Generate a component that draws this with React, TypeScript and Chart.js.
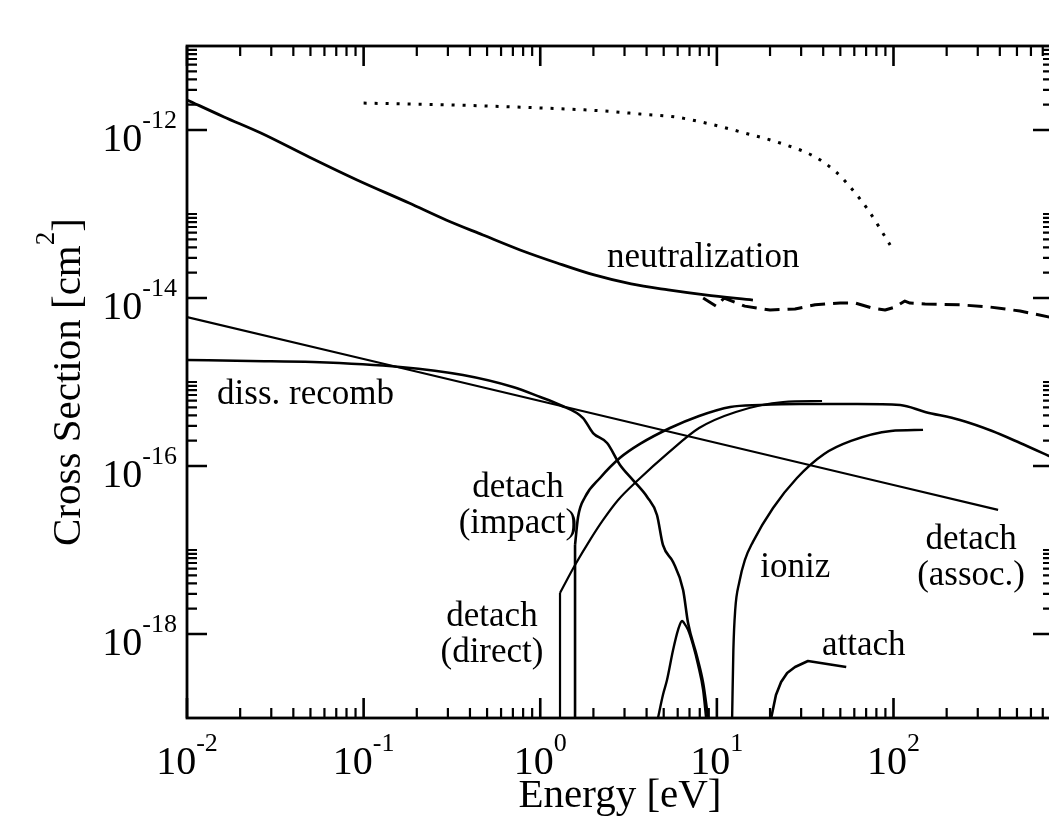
import React, { useEffect, useRef } from 'react';
import { Chart, registerables } from 'chart.js';

Chart.register(...registerables);

const FONT = '"Liberation Serif", "Times New Roman", Times, serif';

// ---- axes ----
const X_MIN = 0.01;
const X_MAX = 800;
const Y_MIN = 1e-19;
const Y_MAX = 1e-11;
const X_MAJOR_TICKS = [0.01, 0.1, 1, 10, 100];
const X_TICK_EXPONENTS = ['-2', '-1', '0', '1', '2'];
const X_MINOR_MULTIPLIERS = [2, 3, 4, 5, 6, 7, 8, 9];
const Y_MAJOR_TICKS = [1e-18, 1e-16, 1e-14, 1e-12];
const Y_TICK_EXPONENTS = ['-18', '-16', '-14', '-12'];
const Y_MINOR_MULTIPLIERS = [2, 3, 4, 5, 6, 7, 8, 9, 10];
const X_TITLE = 'Energy [eV]';
const Y_TITLE = ['Cross Section [cm', '2', ']'];

// ---- series (energy [eV], cross section [cm^2]) ----
const NEUTRAL_E = [0.01, 0.0162, 0.0262, 0.0491, 0.0918, 0.181, 0.293, 0.474, 0.769, 1.245, 2.02, 3.27, 5.3, 8.57, 16.0];
const NEUTRAL_S = [2.28e-12, 1.43e-12, 9.2e-13, 4.77e-13, 2.54e-13, 1.35e-13, 8.49e-14, 5.62e-14, 3.73e-14, 2.61e-14, 1.88e-14, 1.47e-14, 1.25e-14, 1.09e-14, 9.46e-15];

const DOTTED_E = [0.1, 0.308, 1.0, 2.33, 3.67, 5.79, 9.14, 14.4, 22.8, 36.0, 47.3, 56.8, 71.8, 95.7];
const DOTTED_S = [2.09e-12, 1.99e-12, 1.83e-12, 1.68e-12, 1.55e-12, 1.43e-12, 1.18e-12, 9.2e-13, 7.0e-13, 4.78e-13, 3.16e-13, 2.1e-13, 1.12e-13, 4.28e-14];

const DASHED_E = [8.36, 9.91, 11.0, 14.4, 20.0, 27.7, 36.0, 49.9, 60.7, 75.7, 89.6, 102, 116, 124, 151, 238, 352, 521, 802];
const DASHED_S = [1.0e-14, 8.0e-15, 1.0e-14, 8.0e-15, 7.2e-15, 7.4e-15, 8.3e-15, 8.7e-15, 8.7e-15, 7.6e-15, 7.2e-15, 7.8e-15, 9.2e-15, 8.7e-15, 8.5e-15, 8.3e-15, 7.8e-15, 7.0e-15, 5.8e-15];

const RECOMB_E = [0.01, 0.1, 1, 10, 100, 391];
const RECOMB_S = [5.94e-15, 1.88e-15, 5.94e-16, 1.88e-16, 5.94e-17, 3.0e-17];

const DIRECT_E = [0.01, 0.0228, 0.0517, 0.161, 0.365, 0.701, 1.0, 1.294, 1.747, 1.99, 2.39, 2.83, 3.35, 4.03, 4.58, 4.95, 5.65, 6.44, 6.87, 7.73, 8.36, 8.92];
const DIRECT_S = [1.83e-15, 1.78e-15, 1.73e-15, 1.51e-15, 1.21e-15, 8.71e-16, 6.62e-16, 5.32e-16, 3.72e-16, 2.47e-16, 1.88e-16, 1.03e-16, 6.8e-17, 4.28e-17, 2.61e-17, 1.15e-17, 7.2e-18, 3.34e-18, 1.35e-18, 5.32e-19, 2.61e-19, 1e-19];

const IMPACT_ONSET_E = [1.294, 1.294];
const IMPACT_ONSET_S = [1e-19, 3.08e-18];
const IMPACT_E = [1.294, 1.574, 1.915, 2.27, 2.76, 3.58, 5.3, 7.93, 12.8, 23.7, 39.4];
const IMPACT_S = [3.08e-18, 6.62e-18, 1.32e-17, 2.28e-17, 3.94e-17, 6.8e-17, 1.43e-16, 2.83e-16, 4.4e-16, 5.78e-16, 5.94e-16];

const ASSOC_ONSET_E = [1.574, 1.574];
const ASSOC_ONSET_S = [1e-19, 1.15e-17];
const ASSOC_E = [1.574, 1.637, 1.794, 2.18, 2.83, 3.67, 5.43, 7.93, 11.9, 17.6, 29.6, 62.2, 109, 151, 238, 362, 521, 802];
const ASSOC_S = [1.15e-17, 2.47e-17, 4.28e-17, 7.2e-17, 1.25e-16, 1.83e-16, 2.83e-16, 3.94e-16, 5.04e-16, 5.32e-16, 5.47e-16, 5.47e-16, 5.32e-16, 4.4e-16, 3.53e-16, 2.61e-16, 1.88e-16, 1.25e-16];

const IONIZ_E = [12.2, 12.4, 12.7, 13.4, 14.4, 16.0, 20.8, 28.4, 40.5, 57.5, 96.8, 147];
const IONIZ_S = [1e-19, 6.45e-19, 1.93e-18, 4.16e-18, 7.6e-18, 1.25e-17, 3.16e-17, 7.2e-17, 1.39e-16, 1.99e-16, 2.61e-16, 2.69e-16];

const BUMP_E = [4.64, 4.95, 5.22, 5.65, 6.03, 6.35, 6.52, 6.87, 7.33, 7.83, 8.36, 8.69];
const BUMP_S = [1e-19, 1.88e-19, 2.83e-19, 6.45e-19, 1.12e-18, 1.43e-18, 1.35e-18, 1.12e-18, 7.4e-19, 4.28e-19, 2.15e-19, 1e-19];

const ATTACH_E = [20.3, 21.6, 23.1, 25.0, 27.7, 32.8, 54.0];
const ATTACH_S = [1e-19, 1.88e-19, 2.69e-19, 3.44e-19, 4.05e-19, 4.77e-19, 4.05e-19];

// ---- annotations (anchor energy, anchor cross section, text lines) ----
const ANNOTATIONS = [
  { lines: ['neutralization'], e: 2.39, s: 2.34e-14, align: 'left' },
  { lines: ['diss. recomb'], e: 0.0148, s: 5.47e-16, align: 'left' },
  { lines: ['detach', '(impact)'], e: 0.748, s: 4.28e-17, align: 'center' },
  { lines: ['detach', '(direct)'], e: 0.533, s: 1.24e-18, align: 'center' },
  { lines: ['ioniz'], e: 17.6, s: 4.77e-18, align: 'left' },
  { lines: ['detach', '(assoc.)'], e: 275, s: 1.03e-17, align: 'center' },
  { lines: ['attach'], e: 39.4, s: 5.62e-19, align: 'left' },
];

const W = 1070;
const H = 818;
const AREA = { left: 187, top: 46, right: 1053, bottom: 718 };

const zip = (xs: number[], ys: number[]) => xs.map((x, i) => ({ x, y: ys[i] }));

const SERIES = [
  { label: 'neutralization', e: NEUTRAL_E, s: NEUTRAL_S, width: 2.8, dash: [] as number[], smooth: true },
  { label: 'neutralization (dotted)', e: DOTTED_E, s: DOTTED_S, width: 3, dash: [3, 8], smooth: true },
  { label: 'dashed', e: DASHED_E, s: DASHED_S, width: 3, dash: [15, 8], smooth: false },
  { label: 'diss. recomb', e: RECOMB_E, s: RECOMB_S, width: 2.2, dash: [], smooth: false },
  { label: 'detach (direct)', e: DIRECT_E, s: DIRECT_S, width: 2.6, dash: [], smooth: true },
  { label: 'detach (impact) onset', e: IMPACT_ONSET_E, s: IMPACT_ONSET_S, width: 2.2, dash: [], smooth: false },
  { label: 'detach (impact)', e: IMPACT_E, s: IMPACT_S, width: 2.2, dash: [], smooth: true },
  { label: 'detach (assoc.) onset', e: ASSOC_ONSET_E, s: ASSOC_ONSET_S, width: 2.6, dash: [], smooth: false },
  { label: 'detach (assoc.)', e: ASSOC_E, s: ASSOC_S, width: 2.6, dash: [], smooth: true },
  { label: 'ioniz', e: IONIZ_E, s: IONIZ_S, width: 2.4, dash: [], smooth: true },
  { label: 'bump', e: BUMP_E, s: BUMP_S, width: 2.4, dash: [], smooth: true },
  { label: 'attach', e: ATTACH_E, s: ATTACH_S, width: 2.6, dash: [], smooth: false },
];

function xTicks() {
  const ticks: { value: number; major: boolean }[] = X_MAJOR_TICKS.map((v) => ({ value: v, major: true }));
  X_MAJOR_TICKS.forEach((d) => X_MINOR_MULTIPLIERS.forEach((m) => {
    const v = d * m;
    if (v <= X_MAX) ticks.push({ value: v, major: false });
  }));
  return ticks;
}

function yTicks() {
  const ticks: { value: number; major: boolean }[] = Y_MAJOR_TICKS.map((v) => ({ value: v, major: true }));
  Y_MAJOR_TICKS.forEach((d) => Y_MINOR_MULTIPLIERS.forEach((m) => {
    const v = d * m;
    if (v <= Y_MAX * 1.0001) ticks.push({ value: v, major: false });
  }));
  return ticks;
}

const BASE_SIZE = 40;
const SUP_SIZE = 26;
const SUP_RISE = 23;
const YT_SIZE = 41;
const YT_SUP_SIZE = 27;
const YT_SUP_RISE = 26;

function drawPow(ctx: CanvasRenderingContext2D, base: string, exp: string, x: number, baseline: number, align: 'center' | 'right') {
  ctx.font = `${BASE_SIZE}px ${FONT}`;
  const bw = ctx.measureText(base).width;
  ctx.font = `${SUP_SIZE}px ${FONT}`;
  const ew = ctx.measureText(exp).width;
  const total = bw + ew;
  const start = align === 'center' ? x - total / 2 : x - total;
  ctx.textAlign = 'left';
  ctx.textBaseline = 'alphabetic';
  ctx.font = `${BASE_SIZE}px ${FONT}`;
  ctx.fillText(base, start, baseline);
  ctx.font = `${SUP_SIZE}px ${FONT}`;
  ctx.fillText(exp, start + bw, baseline - SUP_RISE);
}

const framePlugin = {
  id: 'xmgraceFrame',
  afterDraw(chart: any) {
    const { ctx, chartArea: a, scales } = chart;
    const xs = scales.x;
    const ys = scales.y;
    ctx.save();
    ctx.strokeStyle = '#000';
    ctx.fillStyle = '#000';
    ctx.lineCap = 'butt';

    for (const t of xs.ticks) {
      const px = xs.getPixelForValue(t.value);
      if (px < a.left - 1 || px > a.right + 1) continue;
      const len = t.major ? 20 : 10;
      ctx.lineWidth = t.major ? 2.6 : 2.2;
      ctx.beginPath();
      ctx.moveTo(px, a.bottom);
      ctx.lineTo(px, a.bottom - len);
      ctx.moveTo(px, a.top);
      ctx.lineTo(px, a.top + len);
      ctx.stroke();
    }
    for (const t of ys.ticks) {
      const py = ys.getPixelForValue(t.value);
      if (py < a.top - 1 || py > a.bottom + 1) continue;
      const len = t.major ? 20 : 10;
      ctx.lineWidth = t.major ? 2.6 : 2.2;
      ctx.beginPath();
      ctx.moveTo(a.left, py);
      ctx.lineTo(a.left + len, py);
      ctx.moveTo(a.right, py);
      ctx.lineTo(a.right - len, py);
      ctx.stroke();
    }

    ctx.lineWidth = 2.8;
    ctx.strokeRect(a.left, a.top, a.right - a.left, a.bottom - a.top);

    // tick labels
    X_MAJOR_TICKS.forEach((v, i) => {
      const px = xs.getPixelForValue(v);
      drawPow(ctx, '10', X_TICK_EXPONENTS[i], px, a.bottom + 56, 'center');
    });
    Y_MAJOR_TICKS.forEach((v, i) => {
      const py = ys.getPixelForValue(v);
      drawPow(ctx, '10', Y_TICK_EXPONENTS[i], a.left - 10, py + 21, 'right');
    });

    // axis titles
    ctx.font = `41px ${FONT}`;
    ctx.textAlign = 'center';
    ctx.textBaseline = 'alphabetic';
    ctx.fillText(X_TITLE, (a.left + a.right) / 2, a.bottom + 89);

    ctx.save();
    ctx.translate(80, (a.top + a.bottom) / 2);
    ctx.rotate(-Math.PI / 2);
    ctx.font = `${YT_SIZE}px ${FONT}`;
    const w1 = ctx.measureText(Y_TITLE[0]).width;
    const w3 = ctx.measureText(Y_TITLE[2]).width;
    ctx.font = `${YT_SUP_SIZE}px ${FONT}`;
    const w2 = ctx.measureText(Y_TITLE[1]).width;
    const x0 = -(w1 + w2 + w3) / 2;
    ctx.textAlign = 'left';
    ctx.font = `${YT_SIZE}px ${FONT}`;
    ctx.fillText(Y_TITLE[0], x0, 0);
    ctx.fillText(Y_TITLE[2], x0 + w1 + w2, 0);
    ctx.font = `${YT_SUP_SIZE}px ${FONT}`;
    ctx.fillText(Y_TITLE[1], x0 + w1, -YT_SUP_RISE);
    ctx.restore();

    // annotations
    ctx.font = `35px ${FONT}`;
    ctx.textBaseline = 'alphabetic';
    for (const an of ANNOTATIONS) {
      const px = xs.getPixelForValue(an.e);
      const py = ys.getPixelForValue(an.s);
      ctx.textAlign = an.align as CanvasTextAlign;
      an.lines.forEach((ln, i) => ctx.fillText(ln, px, py + i * 36));
    }
    ctx.restore();
  },
};

export default function App() {
  const ref = useRef<HTMLCanvasElement>(null);
  useEffect(() => {
    const canvas = ref.current;
    if (!canvas) return;
    const chart = new Chart(canvas, {
      type: 'line',
      data: {
        datasets: SERIES.map((s) => ({
          label: s.label,
          data: zip(s.e, s.s),
          borderColor: '#000',
          backgroundColor: '#000',
          borderWidth: s.width,
          borderDash: s.dash,
          borderCapStyle: 'butt',
          borderJoinStyle: 'round',
          pointRadius: 0,
          pointHoverRadius: 0,
          fill: false,
          tension: 0,
          cubicInterpolationMode: s.smooth ? 'monotone' : 'default',
        })),
      },
      options: {
        animation: false,
        responsive: false,
        maintainAspectRatio: false,
        devicePixelRatio: 1,
        events: [],
        layout: { padding: { left: AREA.left, top: AREA.top, right: W - AREA.right, bottom: H - AREA.bottom } },
        scales: {
          x: {
            type: 'logarithmic',
            min: X_MIN,
            max: X_MAX,
            display: false,
            ticks: { autoSkip: false },
            afterBuildTicks: (scale: any) => { scale.ticks = xTicks(); },
          },
          y: {
            type: 'logarithmic',
            min: Y_MIN,
            max: Y_MAX,
            display: false,
            ticks: { autoSkip: false },
            afterBuildTicks: (scale: any) => { scale.ticks = yTicks(); },
          },
        },
        plugins: { legend: { display: false }, tooltip: { enabled: false } },
      },
      plugins: [framePlugin],
    } as any);
    return () => chart.destroy();
  }, []);
  return (
    <div style={{ position: 'fixed', left: 0, top: 0, width: 1049, height: 818, overflow: 'hidden', background: '#fff' }}>
      <canvas ref={ref} width={W} height={H} style={{ display: 'block', width: W, height: H }} />
    </div>
  );
}
